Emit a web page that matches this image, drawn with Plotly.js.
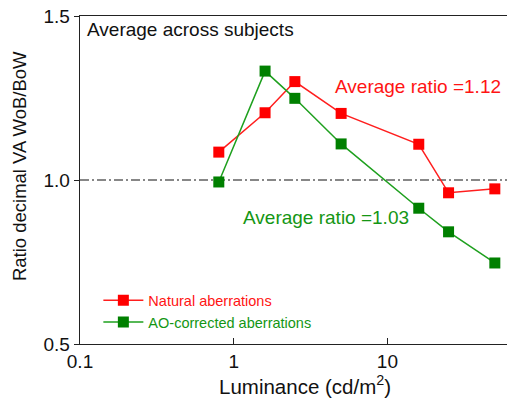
<!DOCTYPE html>
<html>
<head>
<meta charset="utf-8">
<script src="https://cdn.plot.ly/plotly-3.0.1.min.js"></script>
<style>html,body{margin:0;padding:0;background:#fff;}#chart{width:507px;height:401px;}</style>
</head>
<body>
<div id="chart"></div>
<script>
// Data
const luminance = [0.8, 1.6, 2.5, 5, 16, 25, 50];
const naturalRatio = [1.085, 1.205, 1.30, 1.203, 1.109, 0.961, 0.973];
const aoRatio = [0.994, 1.332, 1.249, 1.110, 0.914, 0.842, 0.747];
const xTickVals = [0.1, 1, 10];
const xTickText = ['0.1', '1', '10'];
const yTickVals = [0.5, 1.0, 1.5];
const yTickText = ['0.5', '1.0', '1.5'];
const seriesNames = ['Natural aberrations', 'AO-corrected aberrations'];
const avgLabels = ['Average ratio =1.12', 'Average ratio =1.03'];
const panelTitle = 'Average across subjects';
const xTitle = 'Luminance (cd/m<sup>2</sup>)';
const yTitle = 'Ratio decimal VA WoB/BoW';
const referenceLevel = 1.0;

const RED = 'rgb(255,0,0)';
const GREEN = 'rgb(0,128,0)';
const FONT = 'Liberation Sans, Arial, Helvetica, sans-serif';

const traces = [
  {
    x: luminance, y: naturalRatio, type: 'scatter', mode: 'lines+markers',
    name: '<span style="color:rgb(255,20,20)">' + seriesNames[0] + '</span>',
    line: {color: 'rgb(255,30,30)', width: 1.5},
    marker: {symbol: 'square', size: 11, color: RED}
  },
  {
    x: luminance, y: aoRatio, type: 'scatter', mode: 'lines+markers',
    name: '<span style="color:rgb(20,150,20)">' + seriesNames[1] + '</span>',
    line: {color: 'rgb(30,160,30)', width: 1.5},
    marker: {symbol: 'square', size: 11, color: GREEN}
  }
];

const layout = {
  width: 507, height: 401,
  margin: {l: 80, r: 0, t: 16, b: 57, pad: 0},
  paper_bgcolor: '#fff', plot_bgcolor: '#fff',
  font: {family: FONT, size: 19, color: '#111'},
  showlegend: true,
  legend: {
    x: 0.043, y: 0.10, xanchor: 'left', yanchor: 'middle',
    bgcolor: 'rgba(0,0,0,0)', font: {size: 14.5, family: FONT},
    tracegroupgap: 0, itemwidth: 40
  },
  xaxis: {
    type: 'log', range: [-1, Math.log10(60)],
    tickvals: xTickVals, ticktext: xTickText,
    ticks: 'inside', ticklen: 6, tickcolor: '#222',
    showline: true, linecolor: '#222', linewidth: 1.3, mirror: true,
    showgrid: false, zeroline: false,
    tickfont: {size: 19, family: FONT, color: '#111'}
  },
  yaxis: {
    range: [0.5, 1.5],
    tickvals: yTickVals, ticktext: yTickText,
    ticks: 'outside', ticklen: 5, tickcolor: '#222',
    showline: true, linecolor: '#222', linewidth: 1.3,
    showgrid: false, zeroline: false,
    tickfont: {size: 19, family: FONT, color: '#111'}
  },
  shapes: [
    {type: 'line', xref: 'paper', yref: 'y', x0: 0, x1: 1, y0: referenceLevel, y1: referenceLevel,
     line: {color: '#111', width: 1.1, dash: '9px,3px,2px,3px'}, layer: 'below'}
  ],
  annotations: [
    {xref: 'paper', yref: 'paper', x: 0.012, y: 0.96, xanchor: 'left', yanchor: 'middle',
     text: panelTitle, showarrow: false, font: {size: 19, family: FONT, color: '#111'}},
    {xref: 'paper', yref: 'paper', x: 0.592, y: 0.785, xanchor: 'left', yanchor: 'middle',
     text: avgLabels[0], showarrow: false, font: {size: 19, family: FONT, color: 'rgb(255,20,20)'}},
    {xref: 'paper', yref: 'paper', x: 0.376, y: 0.387, xanchor: 'left', yanchor: 'middle',
     text: avgLabels[1], showarrow: false, font: {size: 19, family: FONT, color: 'rgb(20,150,20)'}},
    {xref: 'paper', yref: 'paper', x: 0.528, y: -0.125, xanchor: 'center', yanchor: 'middle',
     text: xTitle, showarrow: false, font: {size: 20.5, family: FONT, color: '#111'}},
    {xref: 'paper', yref: 'paper', x: -0.14, y: 0.543, xanchor: 'center', yanchor: 'middle',
     textangle: -90, text: yTitle, showarrow: false, font: {size: 18.5, family: FONT, color: '#111'}}
  ]
};

Plotly.newPlot('chart', traces, layout, {displayModeBar: false, staticPlot: true});
</script>
</body>
</html>
